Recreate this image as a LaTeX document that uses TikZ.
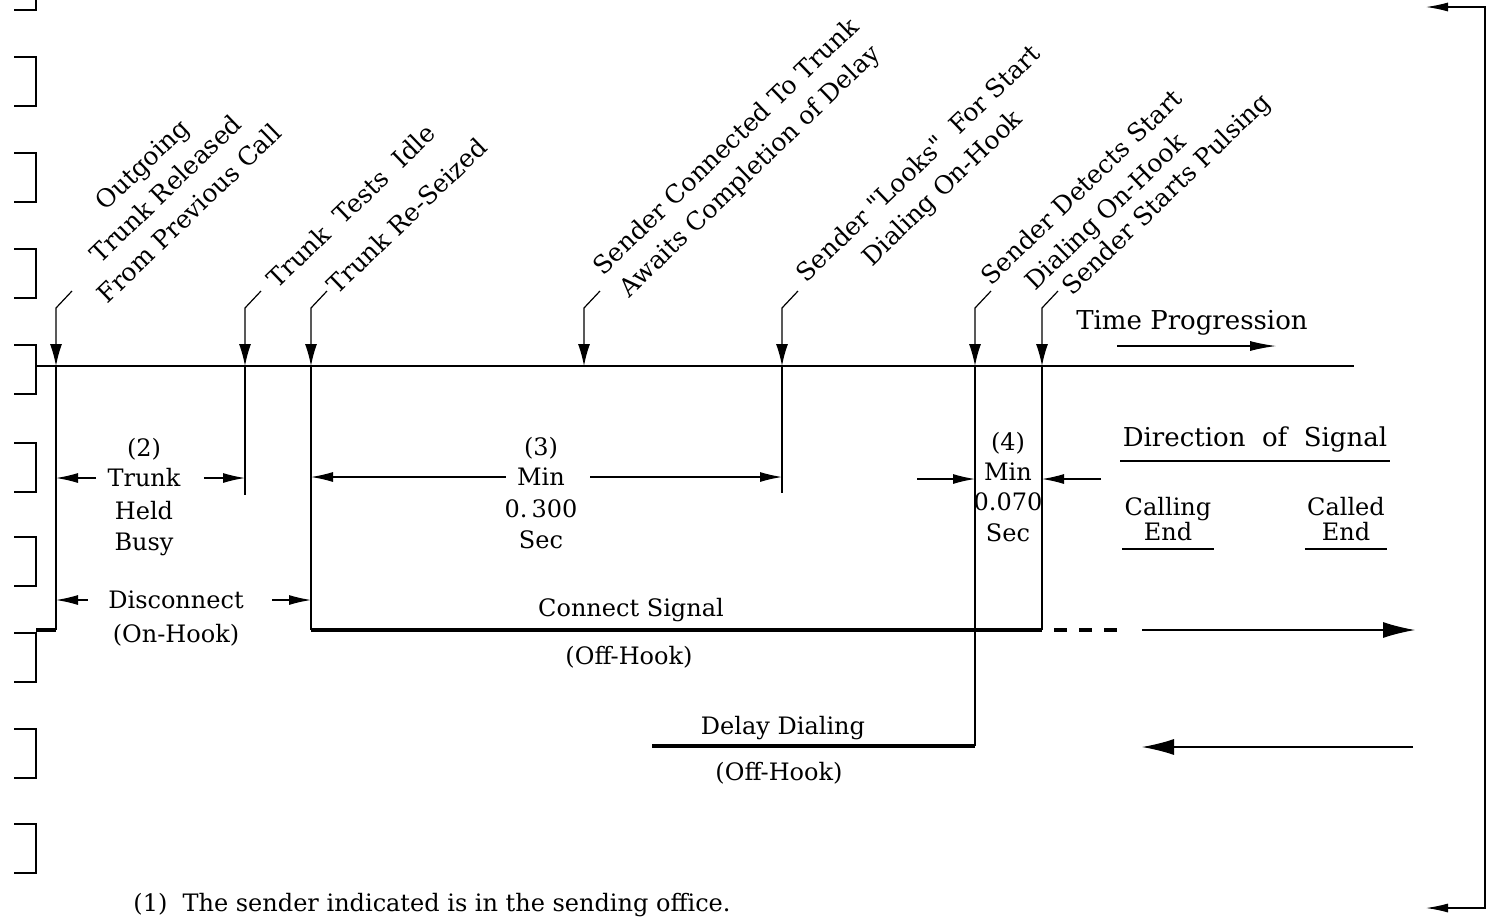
\documentclass[tikz,border=0pt]{standalone}
\usepackage{fontspec}
\setmainfont{DejaVu Serif}
\usetikzlibrary{arrows.meta,positioning}
\newcommand\kutip{{\addfontfeatures{Ligatures=TeXOff}"}}

\begin{document}
\begin{tikzpicture}[x=0.5pt,y=-0.5pt,
    font=\fontsize{12}{15.5}\selectfont,
    teks/.style={inner sep=1pt},
    besar/.style={inner sep=1pt,font=\fontsize{13}{15.5}\selectfont},
    baris/.style={align=center,inner sep=1pt},
    ket/.style={rotate=44,anchor=south west,align=center,inner sep=1pt,
      font=\fontsize{12.5}{17}\selectfont},
    pihak/.style={align=center,inner xsep=1pt,inner ysep=4pt,
      font=\fontsize{12}{12.5}\selectfont},
    tipis/.style={line width=0.6pt},
    tebal/.style={line width=2pt},
    kurung/.style={line width=0.9pt},
    garisbawah/.style={line width=1.1pt},
    pk/.style={tipis,-{Latex[length=11pt,width=6pt]}},
    pn/.style={tipis,-{Latex[length=11pt,width=5pt]}},
    pb/.style={tipis,-{Latex[length=16pt,width=8pt]}}]

  \useasboundingbox (0,0) rectangle (1490,917);

  % Kurung di tepi kiri
  \draw[kurung] (14,10) -- (36,10) -- (36,0);
  \foreach \y in {57,153,249,345,443,537,633,729,824}
    {\draw[kurung] (14,\y) -- (36,\y) -- (36,\y+49) -- (14,\y+49);}

  % Kurung di tepi kanan
  \draw[tipis,{Latex[length=11pt,width=4.5pt]}-{Latex[length=11pt,width=4.5pt]}]
    (1426,7) -- (1485,7) -- (1485,908) -- (1426,908);

  % Garis waktu
  \coordinate (mulai) at (36,366);
  \coordinate (akhir) at (1354,366);
  \draw[line width=1.1pt] (mulai) -- (akhir);
  \node[besar] (tp) at (1192,323) {Time Progression};
  \draw[tipis,-{Latex[length=13pt,width=5pt]}] (1117,346) -- (1276,346);

  % Kejadian pada garis waktu
  \foreach \n/\x in {1/56,2/245,3/311,4/584,5/782,6/975,7/1042}
    {\coordinate (e\n) at (\x,366);
     \coordinate (a\n) at (\x+16,291);}

  \foreach \n/\dx/\dy/\isi in {
      1/36/17/{Outgoing\\Trunk Released\\From Previous Call},
      2/17/2/{Trunk\ \ Tests\ \ Idle},
      3/11/8/{Trunk Re-Seized},
      4/31/17/{Sender Connected To Trunk\\Awaits Completion of Delay},
      5/36/24/{Sender \kutip Looks\kutip\ \ For Start\\Dialing On-Hook},
      6/28/27/{Sender Detects Start\\Dialing On-Hook},
      7/18/13/{Sender Starts Pulsing}}
    {\node[ket] (k\n) at ([shift={(\dx,\dy)}]a\n) {\isi};
     \draw[pk] (a\n) -- ++(-16,17) -- (e\n);}

  % Garis tegak dari titik kejadian
  \coordinate (s0) at (56,630);
  \coordinate (s1) at (311,630);
  \coordinate (s2) at (1042,630);
  \coordinate (d1) at (652,746);
  \coordinate (d2) at (975,746);
  \draw[tipis] (e1) -- (s0);
  \draw[tipis] (e2) -- ++(0,129);
  \draw[tipis] (e3) -- (s1);
  \draw[tipis] (e5) -- ++(0,127);
  \draw[tipis] (e6) -- (d2);
  \draw[tipis] (e7) -- (s2);

  % Sinyal sambung dan sinyal tunda
  \draw[tebal] (36,630) -- (s0);
  \draw[tebal] (s1) -- (s2);
  \draw[tebal,dash pattern=on 6.5pt off 6pt] (1054,630) -- (1120,630);
  \draw[pb] (1142,630) -- (1415,630);
  \draw[tebal] (d1) -- (d2);
  \draw[pb] (1413,747) -- (1142,747);

  \node[teks] (cs) at (631,610) {Connect Signal};
  \node[teks] (cso) at (629,657) {(Off-Hook)};
  \node[teks] (dd) at (783,728) {Delay Dialing};
  \node[teks] (ddo) at (779,773) {(Off-Hook)};

  % Selang (2)
  \node[teks] (tb) at (144,478) {Trunk};
  \node[teks,above=2pt of tb] (tb0) {(2)};
  \node[baris,below=4.4pt of tb] (tb1) {Held\\Busy};
  \draw[pn] ([xshift=-4.5pt]tb.west) -- (tb.west -| e1);
  \draw[pn] ([xshift=10.5pt]tb.east) -- (tb.east -| e2);

  % Putus (Disconnect)
  \node[teks] (dc) at (176,600) {Disconnect};
  \node[teks,below=5pt of dc] (dco) {(On-Hook)};
  \draw[pn] ([xshift=-9pt]dc.west) -- (dc.west -| e1);
  \draw[pn] ([xshift=13pt]dc.east) -- (dc.east -| e3);

  % Selang (3)
  \node[teks] (m3) at (541,477) {Min};
  \node[teks,above=2pt of m3] (m30) {(3)};
  \node[baris,below=4.4pt of m3] (m31) {0.\,300\\Sec};
  \draw[pn] ([xshift=-4.5pt]m3.west) -- (m3.west -| e3);
  \draw[pn] ([xshift=11.5pt]m3.east) -- (m3.east -| e5);

  % Selang (4)
  \node[teks] (m4) at (1008,472) {Min};
  \node[teks,above=2pt of m4] (m40) {(4)};
  \node[baris,inner sep=0pt,below=4.4pt of m4] (m41) {0.070\\Sec};
  \draw[pn] (917,479) -- (e6 |- 0,479);
  \draw[pn] (1101,479) -- (e7 |- 0,479);

  % Arah sinyal
  \node[pihak,font=\fontsize{13}{15}\selectfont] (arah) at (1255,440)
    {Direction\ \ of\ \ Signal};
  \draw[garisbawah] (arah.south west) -- (arah.south east);
  \node[pihak] (asal) at (1168,519) {Calling\\End};
  \draw[garisbawah] (asal.south west) -- (asal.south east);
  \node[pihak] (tuju) at (1346,519) {Called\\End};
  \draw[garisbawah] (tuju.south west) -- (tuju.south east);

  % Catatan kaki
  \node[anchor=west,inner sep=0pt] (cat) at (133,905)
    {(1)\ \ The sender indicated is in the sending office.};
\end{tikzpicture}
\end{document}
